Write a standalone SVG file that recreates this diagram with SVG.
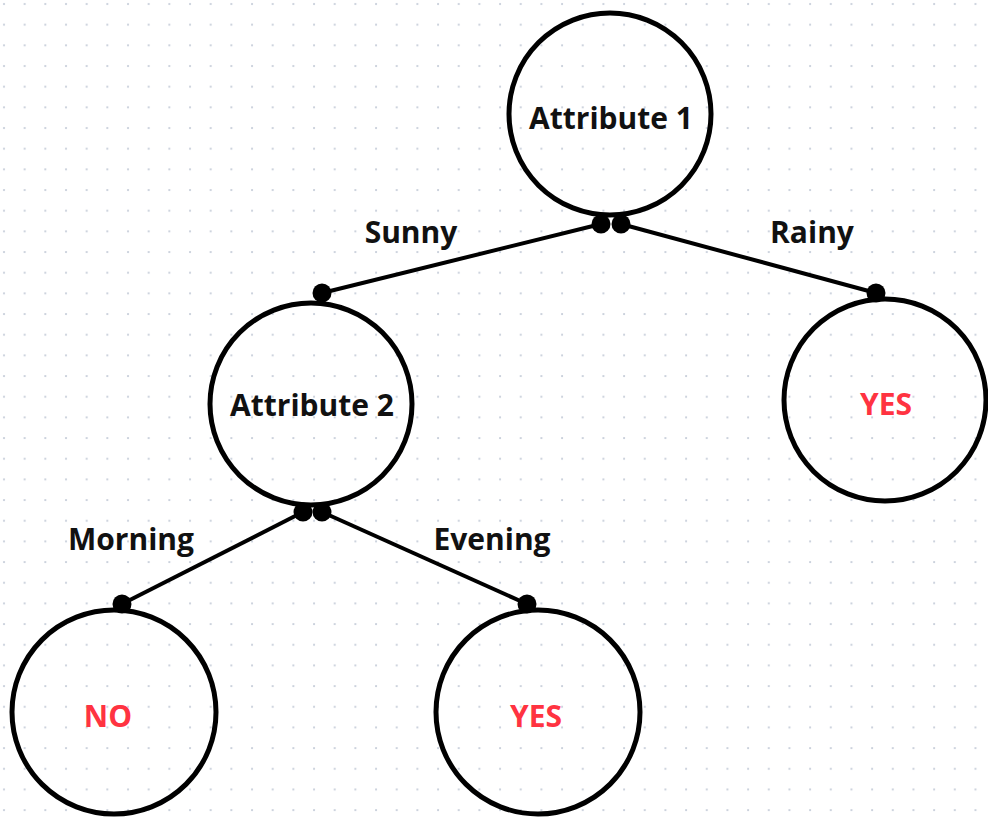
<svg xmlns="http://www.w3.org/2000/svg" width="988" height="818" viewBox="0 0 988 818">
<defs>
<pattern id="grid" x="0" y="0" width="20.67" height="20.67" patternUnits="userSpaceOnUse">
<circle cx="4" cy="4" r="1.1" fill="#c5ccd8"/>
</pattern>
</defs>
<style>
.node{fill:none;stroke:#000;stroke-width:5}
.edge{stroke:#000;stroke-width:4;fill:none}
.pt{fill:#000}
.lbl{font-family:"Open Sans","Noto Sans",sans-serif;font-weight:bold;font-size:30px;fill:#111;text-anchor:middle}
.res{font-family:"Open Sans","Noto Sans",sans-serif;font-weight:bold;font-size:30px;fill:#ff3341;text-anchor:middle}
</style>
<rect width="988" height="818" fill="#fff"/>
<rect width="988" height="818" fill="url(#grid)"/>
<g id="connectors">
<line class="edge" x1="601" y1="224" x2="322" y2="293"/>
<line class="edge" x1="621" y1="224" x2="876" y2="293"/>
<line class="edge" x1="303" y1="512" x2="122" y2="604"/>
<line class="edge" x1="322" y1="512" x2="527" y2="604"/>
<circle class="pt" cx="601" cy="224" r="9.5"/>
<circle class="pt" cx="621" cy="224" r="9.5"/>
<circle class="pt" cx="322" cy="293" r="9.5"/>
<circle class="pt" cx="876" cy="293" r="9.5"/>
<circle class="pt" cx="303" cy="512" r="9.5"/>
<circle class="pt" cx="322" cy="512" r="9.5"/>
<circle class="pt" cx="122" cy="604" r="9.5"/>
<circle class="pt" cx="527" cy="604" r="9.5"/>
<text class="lbl" x="411" y="243">Sunny</text>
<text class="lbl" x="812" y="243">Rainy</text>
<text class="lbl" x="131" y="550">Morning</text>
<text class="lbl" x="492" y="550">Evening</text>
</g>
<g id="attr1">
<circle class="node" cx="610" cy="114" r="101"/>
<text class="lbl" x="611" y="129">Attribute 1</text>
</g>
<g id="attr2">
<circle class="node" cx="311" cy="404" r="101"/>
<text class="lbl" x="312" y="416">Attribute 2</text>
</g>
<g id="yes1">
<circle class="node" cx="885" cy="400" r="101"/>
<text class="res" x="886" y="415">YES</text>
</g>
<g id="no">
<circle class="node" cx="114" cy="712" r="102"/>
<text class="res" x="108" y="727">NO</text>
</g>
<g id="yes2">
<circle class="node" cx="538" cy="712" r="102"/>
<text class="res" x="536" y="727">YES</text>
</g>
</svg>
